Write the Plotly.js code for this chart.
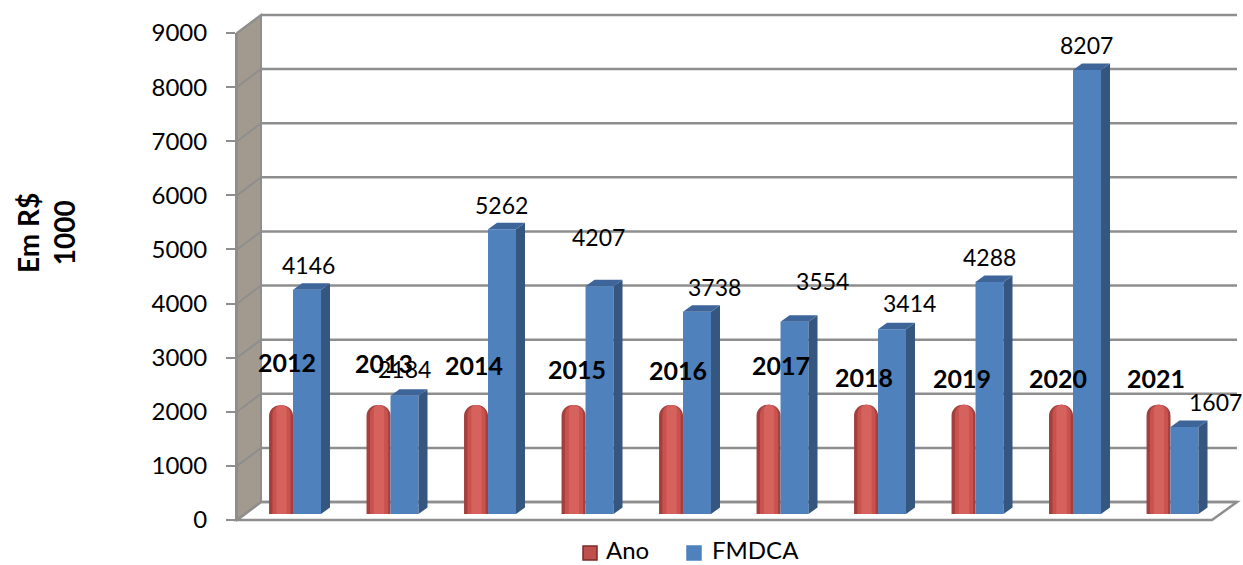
<!DOCTYPE html>
<html>
<head>
<meta charset="utf-8">
<script src="https://cdn.plot.ly/plotly-3.0.1.min.js"></script>
<style>html,body{margin:0;padding:0;background:#fff;}#chart{width:1243px;height:565px;}</style>
</head>
<body>
<div id="chart"></div>
<script>
// ---- data ----
const years = ["2012","2013","2014","2015","2016","2017","2018","2019","2020","2021"];
const ano = [2012, 2013, 2014, 2015, 2016, 2017, 2018, 2019, 2020, 2021];
const fmdca = [4146, 2184, 5262, 4207, 3738, 3554, 3414, 4288, 8207, 1607];
const seriesNames = ["Ano", "FMDCA"];
const seriesColors = ["#c0504d", "#4f81bd"];
const yTicks = [0, 1000, 2000, 3000, 4000, 5000, 6000, 7000, 8000, 9000];

// ---- label nudges (px), as placed in the original ----
const fmdcaLabelDX = [1, 0, -1, -1.5, 17, 27.5, 17, 0, -1, 30.5];
const fmdcaLabelDY = [25, 27, 24, 49, 25, 41, 26, 25, 25, 25];
const anoLabelDX = [6, 5.5, -2, 3.5, 7, 12.5, -2, -1.5, -3, -2.5];
const anoLabelDY = [43, 42, 40, 36, 35, 40, 28, 27, 27, 27];

// ---- geometry (pixels) ----
const W = 1243, H = 565;
const px = v => v / W, py = v => 1 - v / H;
const FRONT_X = 237, BACK_X = 261, RIGHT_BACK_X = 1237, RIGHT_FRONT_X = 1212;
const FRONT_Y0 = 520, BACK_Y0 = 502, PX_PER_UNIT = 487 / 9000;
const yFront = v => FRONT_Y0 - v * PX_PER_UNIT;
const yBack = v => BACK_Y0 - v * PX_PER_UNIT;

const idx = years.map((_, i) => i);
const FONT = "Lato, 'Open Sans', sans-serif";
const GRID = "#8e8e8e";

// bar geometry in data units
const anoOff = -0.256, anoW = 0.246;
const fOff = -0.01, fW = 0.287;
const depthX = 9 / 97.5;          // 3D depth, x (data units)
const depthY = 6.5 / PX_PER_UNIT; // 3D depth, y (data units)

const traces = [
  { type: "bar", x: idx, y: ano, name: seriesNames[0], offset: anoOff, width: anoW,
    marker: { color: "#a2403d", cornerradius: "50%" }, hoverinfo: "skip" },
  { type: "bar", x: idx, y: ano, name: seriesNames[0], offset: anoOff + 0.035, width: anoW - 0.06,
    marker: { color: "#c9524f", cornerradius: "50%" } },
  { type: "bar", x: idx, y: ano, name: seriesNames[0], offset: anoOff + 0.075, width: anoW - 0.14,
    marker: { color: "#d6625e", cornerradius: "50%" }, hoverinfo: "skip" },
  { type: "bar", x: idx, y: fmdca, name: seriesNames[1], offset: fOff, width: fW,
    marker: { color: seriesColors[1] } },
  { type: "scatter", x: [0], y: [0], xaxis: "x2", yaxis: "y2", mode: "markers",
    marker: { opacity: 0 }, hoverinfo: "skip" }
];

const shapes = [];
// left side wall
shapes.push({ type: "path", xref: "paper", yref: "paper", layer: "below",
  path: `M${px(FRONT_X)},${py(yFront(9000))} L${px(BACK_X)},${py(yBack(9000))} L${px(BACK_X)},${py(yBack(0))} L${px(FRONT_X)},${py(yFront(0))} Z`,
  fillcolor: "#a39a8f", line: { color: GRID, width: 2 } });
// floor
shapes.push({ type: "path", xref: "paper", yref: "paper", layer: "below",
  path: `M${px(FRONT_X)},${py(yFront(0))} L${px(RIGHT_FRONT_X)},${py(yFront(0))} L${px(RIGHT_BACK_X)},${py(yBack(0))} L${px(BACK_X)},${py(yBack(0))} Z`,
  fillcolor: "#ffffff", line: { color: GRID, width: 2.5 } });
// back-wall grid lines and wall diagonals
yTicks.forEach(v => {
  shapes.push({ type: "line", xref: "paper", yref: "paper", layer: "below",
    x0: px(BACK_X), x1: px(RIGHT_BACK_X), y0: py(yBack(v)), y1: py(yBack(v)),
    line: { color: GRID, width: 2.5 } });
  shapes.push({ type: "line", xref: "paper", yref: "paper", layer: "below",
    x0: px(FRONT_X), x1: px(BACK_X), y0: py(yFront(v)), y1: py(yBack(v)),
    line: { color: GRID, width: 2 } });
});
// 3D faces of FMDCA bars
fmdca.forEach((v, i) => {
  const x0 = i + fOff, x1 = i + fOff + fW;
  shapes.push({ type: "path", xref: "x", yref: "y", layer: "above",
    path: `M${x1},0 L${x1 + depthX},${depthY} L${x1 + depthX},${v + depthY} L${x1},${v} Z`,
    fillcolor: "#34567f", line: { width: 0 } });
  shapes.push({ type: "path", xref: "x", yref: "y", layer: "above",
    path: `M${x0},${v} L${x0 + depthX},${v + depthY} L${x1 + depthX},${v + depthY} L${x1},${v} Z`,
    fillcolor: "#3d659a", line: { width: 0 } });
});

// legend (drawn manually to match the original's spacing)
const legendIconX = [583, 687], legendTextX = [605, 711], ICON_Y = 553, TEXT_Y = 549, ICON = 14;
seriesNames.forEach((n, k) => {
  shapes.push({ type: "rect", xref: "paper", yref: "paper", layer: "above",
    x0: px(legendIconX[k]), x1: px(legendIconX[k] + ICON),
    y0: py(ICON_Y + ICON / 2), y1: py(ICON_Y - ICON / 2),
    fillcolor: seriesColors[k], line: { color: k === 0 ? "#7a2a28" : seriesColors[k], width: 1.5 } });
});

const annotations = [];
fmdca.forEach((v, i) => {
  annotations.push({ x: i + fOff + fW / 2, y: v, xref: "x", yref: "y", text: String(v),
    showarrow: false, xanchor: "center", yanchor: "middle",
    xshift: fmdcaLabelDX[i], yshift: fmdcaLabelDY[i],
    font: { family: FONT, size: 23, color: "#000" } });
});
ano.forEach((v, i) => {
  annotations.push({ x: i + anoOff + anoW / 2, y: v, xref: "x", yref: "y", text: "<b>" + years[i] + "</b>",
    showarrow: false, xanchor: "center", yanchor: "middle",
    xshift: anoLabelDX[i], yshift: anoLabelDY[i],
    font: { family: FONT, size: 25, color: "#000" } });
});
seriesNames.forEach((n, k) => {
  annotations.push({ x: px(legendTextX[k]), y: py(TEXT_Y), xref: "paper", yref: "paper",
    text: n, showarrow: false, xanchor: "left", yanchor: "middle", borderpad: 0,
    font: { family: FONT, size: 24, color: "#000" } });
});
annotations.push({ x: px(46), y: py(233), xref: "paper", yref: "paper",
  text: "<b>Em R$<br>1000</b>", textangle: -90, showarrow: false,
  xanchor: "center", yanchor: "middle",
  font: { family: FONT, size: 28, color: "#000" } });

const xr0 = -(294 - FRONT_X) / 97.5;
const layout = {
  width: W, height: H,
  margin: { l: 0, r: 0, t: 0, b: 0, autoexpand: false },
  paper_bgcolor: "#ffffff", plot_bgcolor: "rgba(0,0,0,0)",
  barmode: "overlay",
  showlegend: false,
  xaxis: { domain: [px(FRONT_X), px(RIGHT_BACK_X)], range: [xr0, xr0 + (RIGHT_BACK_X - FRONT_X) / 97.5],
    visible: false, fixedrange: true },
  yaxis: { domain: [py(514), py(514 - 487)], range: [0, 9000], visible: false, fixedrange: true },
  xaxis2: { domain: [px(FRONT_X), px(RIGHT_BACK_X)], range: [0, 1], anchor: "y2", visible: false },
  yaxis2: { domain: [py(FRONT_Y0), py(yFront(9000))], range: [0, 9000], anchor: "x2",
    tickvals: yTicks, ticktext: yTicks.map(String), ticks: "outside", ticklen: 9, tickwidth: 2, tickcolor: GRID,
    ticklabelstandoff: 14, showgrid: false, zeroline: false, showline: true, linecolor: GRID, linewidth: 2,
    tickfont: { family: FONT, size: 24, color: "#000" } },
  shapes: shapes,
  annotations: annotations
};

Plotly.newPlot("chart", traces, layout, { displayModeBar: false, staticPlot: true });
</script>
</body>
</html>
